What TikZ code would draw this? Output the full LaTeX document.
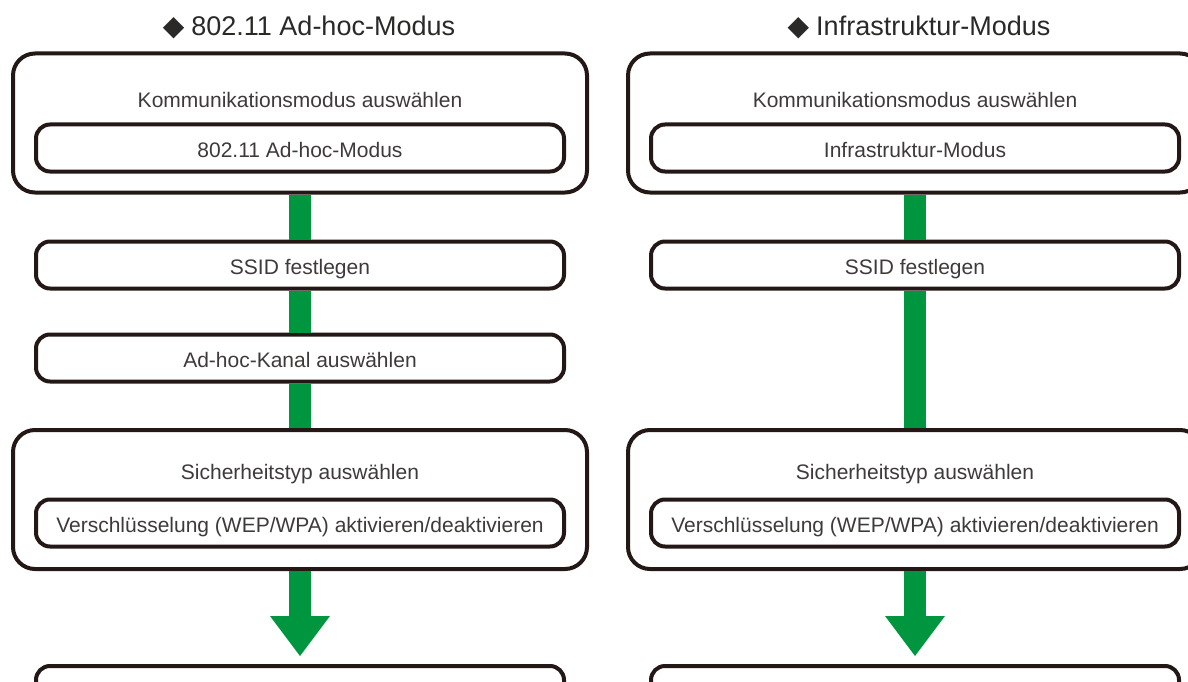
\documentclass[tikz,border=0pt]{standalone}
\usepackage{fontspec}
\setmainfont{Liberation Sans}
\newfontfamily\symbolfont{DejaVu Sans}
\usetikzlibrary{arrows.meta}

\definecolor{stepgreen}{RGB}{0,150,64}
\definecolor{frameink}{RGB}{35,24,21}
\definecolor{labelgray}{RGB}{62,58,57}

\begin{document}
\begin{tikzpicture}[x=1pt, y=-1pt,
    outerbox/.style={draw=frameink, line width=4pt, rounded corners=22pt,
        minimum width=574pt, minimum height=139pt, inner sep=0pt},
    innerbox/.style={draw=frameink, line width=4pt, rounded corners=14pt,
        minimum width=528pt, minimum height=47pt, inner sep=0pt,
        text height=19pt, text depth=0pt,
        font=\fontsize{21}{21}\selectfont, text=labelgray},
    boxlabel/.style={font=\fontsize{21}{21}\selectfont, text=labelgray, inner sep=0pt},
    heading/.style={font=\fontsize{27}{27}\selectfont, text=labelgray!70!black, inner sep=0pt},
    greenbar/.style={draw=stepgreen, line width=22pt},
    greenarrow/.style={greenbar, shorten >=8pt,
        -{Triangle[width=60pt, length=40pt, line width=0pt]}}]

    \useasboundingbox (0,0) rectangle (1188,682);
    \clip (0,0) rectangle (1188,682);

    % ad-hoc column
    \node[heading] (titleL) at (309,27) {{\symbolfont\fontsize{28}{28}\selectfont ◆}\hspace{7pt}802.11 Ad-hoc-Modus};
    \node[outerbox] (modeL) at (300,123) {};
    \node[boxlabel] at (300,100) {Kommunikationsmodus auswählen};
    \node[innerbox] (modeInL) at (300,148) {802.11 Ad-hoc-Modus};
    \node[innerbox] (ssidL) at (300,265) {SSID festlegen};
    \node[innerbox] (channelL) at (300,358) {Ad-hoc-Kanal auswählen};
    \node[outerbox] (secL) at (300,499.5) {};
    \node[boxlabel] at (300,474) {Sicherheitstyp auswählen};
    \node[innerbox] (secInL) at (300,523) {Verschlüsselung (WEP/WPA) aktivieren/deaktivieren};
    \node[innerbox, minimum height=50pt] (nextL) at (300,691) {};

    \draw[greenbar] (modeL.south) -- (ssidL.north);
    \draw[greenbar] (ssidL.south) -- (channelL.north);
    \draw[greenbar] (channelL.south) -- (secL.north);
    \draw[greenarrow] (secL.south) -- (nextL.north);

    % infrastructure column
    \node[heading] (titleR) at (919,27) {{\symbolfont\fontsize{28}{28}\selectfont ◆}\hspace{7pt}Infrastruktur-Modus};
    \node[outerbox] (modeR) at (915,123) {};
    \node[boxlabel] at (915,100) {Kommunikationsmodus auswählen};
    \node[innerbox] (modeInR) at (915,148) {Infrastruktur-Modus};
    \node[innerbox] (ssidR) at (915,265) {SSID festlegen};
    \node[outerbox] (secR) at (915,499.5) {};
    \node[boxlabel] at (915,474) {Sicherheitstyp auswählen};
    \node[innerbox] (secInR) at (915,523) {Verschlüsselung (WEP/WPA) aktivieren/deaktivieren};
    \node[innerbox, minimum height=50pt] (nextR) at (915,691) {};

    \draw[greenbar] (modeR.south) -- (ssidR.north);
    \draw[greenbar] (ssidR.south) -- (secR.north);
    \draw[greenarrow] (secR.south) -- (nextR.north);
\end{tikzpicture}
\end{document}
